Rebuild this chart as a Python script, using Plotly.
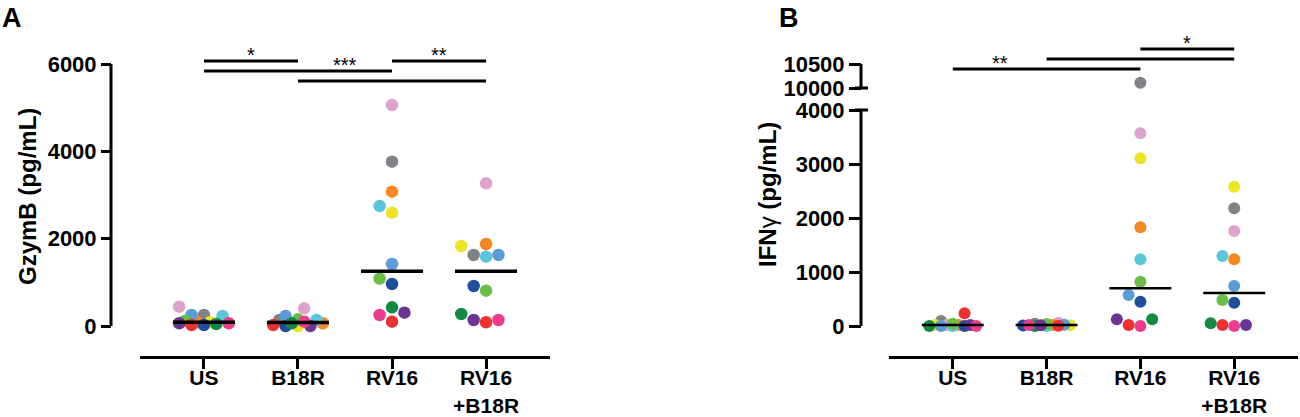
import numpy as np
import plotly.graph_objects as go

# ---------------- data ----------------
groups = ["US", "B18R", "RV16", "RV16+B18R"]
group_labels = ["US", "B18R", "RV16", "RV16<br>+B18R"]
# donors (same order in every list): grey, pink, orange, cyan, yellow, light blue,
# dark blue, light green, dark green, red, purple, magenta
donors = ["D1", "D2", "D3", "D4", "D5", "D6", "D7", "D8", "D9", "D10", "D11", "D12"]

gzmb_US = [252, 442, 85, 229, 85, 252, 23, 120, 46, 23, 62, 62]
gzmb_B18R = [137, 405, 62, 137, 0, 229, 0, 153, 62, 23, 0, 99]
gzmb_RV16 = [3763, 5061, 3076, 2748, 2595, 1420, 962, 1084, 428, 99, 305, 252]
gzmb_RV16_B18R = [1626, 3267, 1878, 1588, 1832, 1626, 916, 809, 275, 85, 137, 137]

ifng_US = [93, 19, 19, 0, 19, 0, 0, 40, 0, 235, 19, 0]
ifng_B18R = [40, 61, 20, 0, 15, 25, 10, 35, 0, 5, 15, 20]
ifng_RV16 = [10110, 3568, 1827, 1235, 3105, 574, 451, 821, 124, 19, 124, 0]
ifng_RV16_B18R = [2179, 1759, 1235, 1296, 2580, 741, 432, 481, 50, 19, 19, 0]

gzmb_ticks = [0, 2000, 4000, 6000]
ifng_ticks_low = [0, 1000, 2000, 3000, 4000]
ifng_ticks_high = [10000, 10500]

# significance brackets: (group from, group to, level, label, label centred between)
sig_A = [("B18R", "RV16+B18R", 0, "", None),
         ("US", "RV16", 1, "***", ("B18R", "RV16")),
         ("US", "B18R", 2, "*", ("US", "B18R")),
         ("RV16", "RV16+B18R", 2, "**", ("RV16", "RV16+B18R"))]
sig_B = [("US", "RV16", 0, "**", ("US", "B18R")),
         ("B18R", "RV16+B18R", 1, "", None),
         ("RV16", "RV16+B18R", 2, "*", ("RV16", "RV16+B18R"))]

# ---------------- styles / layout ----------------
colors = ["#808285", "#dfa2cb", "#f6861f", "#5ac6d9", "#efe424", "#5b9bd8",
          "#1f4e9e", "#6abd45", "#138a43", "#ec3131", "#6b3595", "#ec3c8c"]
W, H = 1300, 417
FONT = "Liberation Sans, Arial, sans-serif"


def fx(px):
    return px / W


def fy(py):
    return 1 - py / H


X_RANGE = [-0.68, 3.68]
XA_DOM = (140, 550)
XB_DOM = (889, 1298)
YA_SPINE = 111
YB_SPINE = 861

# pixel anchors of the value scales
A_px0, A_v1, A_px1 = 326, 6000, 64
BL_px0, BL_v1, BL_px1 = 326, 4000, 110
BH_v0, BH_px0, BH_v1, BH_px1 = 10000, 88, 10500, 64

A_dom = (356, 26)
BL_dom = (356, 100)
BH_dom = (97, 20)


def lin_range(dom, va, pa, vb, pb):
    s = (pa - pb) / (vb - va)  # px per unit
    lo = va + (pa - dom[0]) / s
    hi = va + (pa - dom[1]) / s
    return [lo, hi], s


A_range, A_s = lin_range(A_dom, 0, A_px0, A_v1, A_px1)
BL_range, BL_s = lin_range(BL_dom, 0, BL_px0, BL_v1, BL_px1)
BH_range, BH_s = lin_range(BH_dom, BH_v0, BH_px0, BH_v1, BH_px1)
cat_px = (XA_DOM[1] - XA_DOM[0]) / (X_RANGE[1] - X_RANGE[0])


def swarm(py, d=12.4, step=6.2, maxoff=28):
    py = np.asarray(py, float)
    order = np.argsort(-py, kind="stable")
    cands = [0.0]
    k = 1
    while k * step <= maxoff:
        cands += [-k * step, k * step]
        k += 1
    placed = []
    offs = np.zeros(len(py))
    for i in order:
        y = py[i]
        chosen, best, bestd = None, 0.0, -1
        for c in cands:
            md = min([np.hypot(c - px, y - yy) for px, yy in placed], default=1e9)
            if md >= d:
                chosen = c
                break
            if md > bestd:
                bestd, best = md, c
        offs[i] = chosen if chosen is not None else best
        placed.append((offs[i], y))
    return offs


fig = go.Figure()

gzmb = [gzmb_US, gzmb_B18R, gzmb_RV16, gzmb_RV16_B18R]
ifng = [ifng_US, ifng_B18R, ifng_RV16, ifng_RV16_B18R]

# ---- panel A points
for gi, vals in enumerate(gzmb):
    vals = np.asarray(vals, float)
    py = A_px0 - vals * A_s
    offs = swarm(py) / cat_px
    fig.add_trace(go.Scatter(x=gi + offs, y=vals, mode="markers", xaxis="x", yaxis="y",
                             marker=dict(size=12.5, color=colors, line=dict(width=0)),
                             cliponaxis=False, showlegend=False, hoverinfo="y"))
for gi, vals in enumerate(gzmb):
    m = float(np.median(vals))
    fig.add_trace(go.Scatter(x=[gi - 0.33, gi + 0.33], y=[m, m], mode="lines", xaxis="x", yaxis="y",
                             line=dict(color="black", width=3.5), showlegend=False, hoverinfo="skip"))

# ---- panel B points (broken axis)
for gi, vals in enumerate(ifng):
    vals = np.asarray(vals, float)
    high = vals > BL_v1
    py = np.where(high, BH_px0 - (vals - BH_v0) * BH_s, BL_px0 - vals * BL_s)
    offs = swarm(py, d=11.8, step=5.9) / cat_px
    cols = np.array(colors)
    lo = ~high
    fig.add_trace(go.Scatter(x=gi + offs[lo], y=vals[lo], mode="markers", xaxis="x2", yaxis="y2",
                             marker=dict(size=12, color=list(cols[lo]), line=dict(width=0)),
                             cliponaxis=False, showlegend=False, hoverinfo="y"))
    if high.any():
        fig.add_trace(go.Scatter(x=gi + offs[high], y=vals[high], mode="markers", xaxis="x2", yaxis="y3",
                                 marker=dict(size=12, color=list(cols[high]), line=dict(width=0)),
                                 cliponaxis=False, showlegend=False, hoverinfo="y"))
for gi, vals in enumerate(ifng):
    m = float(np.median(vals))
    fig.add_trace(go.Scatter(x=[gi - 0.33, gi + 0.33], y=[m, m], mode="lines", xaxis="x2", yaxis="y2",
                             line=dict(color="black", width=2.5), showlegend=False, hoverinfo="skip"))

# ---- significance brackets
annots = []


def brackets(sigs, xa, ya, base, step, width, star_shift):
    for g1, g2, lvl, lab, between in sigs:
        y = base + lvl * step
        i1, i2 = groups.index(g1), groups.index(g2)
        fig.add_trace(go.Scatter(x=[i1, i2], y=[y, y], mode="lines", xaxis=xa, yaxis=ya,
                                 line=dict(color="black", width=width), showlegend=False,
                                 hoverinfo="skip"))
        if lab:
            c = (groups.index(between[0]) + groups.index(between[1])) / 2
            annots.append(dict(x=c, y=y, xref=xa, yref=ya, text=lab, showarrow=False,
                               yanchor="middle", yshift=star_shift,
                               font=dict(family=FONT, size=20, color="black")))


brackets(sig_A, "x", "y", 5611, 229, 3, 6)
brackets(sig_B, "x2", "y3", 10396, 208, 3, 6)

# ---- axis spines (Prism-style, limited to the labelled range)
shapes = [
    dict(type="line", xref="paper", yref="y", x0=fx(YA_SPINE), x1=fx(YA_SPINE),
         y0=gzmb_ticks[0], y1=gzmb_ticks[-1], line=dict(color="black", width=3)),
    dict(type="line", xref="paper", yref="y2", x0=fx(YB_SPINE), x1=fx(YB_SPINE),
         y0=ifng_ticks_low[0], y1=ifng_ticks_low[-1], line=dict(color="black", width=3)),
    dict(type="line", xref="paper", yref="y3", x0=fx(YB_SPINE), x1=fx(YB_SPINE),
         y0=ifng_ticks_high[0], y1=ifng_ticks_high[-1], line=dict(color="black", width=3)),
    # break caps
    dict(type="line", xref="paper", yref="y2", x0=fx(YB_SPINE - 6), x1=fx(YB_SPINE + 7),
         y0=ifng_ticks_low[-1], y1=ifng_ticks_low[-1], line=dict(color="black", width=3)),
    dict(type="line", xref="paper", yref="y3", x0=fx(YB_SPINE - 6), x1=fx(YB_SPINE + 7),
         y0=ifng_ticks_high[0], y1=ifng_ticks_high[0], line=dict(color="black", width=3)),
]

tickfont = dict(family=FONT, size=22, color="black", weight="bold")
catfont = dict(family=FONT, size=21, color="black", weight="bold")

xcommon = dict(range=X_RANGE, tickvals=list(range(len(groups))), ticktext=group_labels,
               showline=True, linecolor="black", linewidth=3, ticks="outside", ticklen=10,
               tickwidth=3, tickcolor="black", showgrid=False, zeroline=False,
               tickfont=catfont, fixedrange=True, automargin=False, ticklabelstandoff=-9)
ycommon = dict(showline=False, ticks="outside", ticklen=10, tickwidth=3, tickcolor="black",
               showgrid=False, zeroline=False, tickfont=tickfont, anchor="free", fixedrange=True,
               tickformat="d", automargin=False)

fig.update_layout(
    width=W, height=H, margin=dict(l=0, r=0, t=0, b=0, autoexpand=False),
    paper_bgcolor="white", plot_bgcolor="white", showlegend=False,
    xaxis=dict(domain=[fx(XA_DOM[0]), fx(XA_DOM[1])], anchor="y", **xcommon),
    xaxis2=dict(domain=[fx(XB_DOM[0]), fx(XB_DOM[1])], anchor="y2", **xcommon),
    yaxis=dict(domain=[fy(A_dom[0]), fy(A_dom[1])], range=A_range, tickvals=gzmb_ticks,
               position=fx(YA_SPINE), **ycommon),
    yaxis2=dict(domain=[fy(BL_dom[0]), fy(BL_dom[1])], range=BL_range, tickvals=ifng_ticks_low,
                position=fx(YB_SPINE), **{**ycommon, "ticklen": 12}),
    yaxis3=dict(domain=[fy(BH_dom[0]), fy(BH_dom[1])], range=BH_range, tickvals=ifng_ticks_high,
                position=fx(YB_SPINE), **{**ycommon, "ticklen": 12}),
    shapes=shapes,
)

annots += [
    dict(x=fx(0), y=fy(1), xref="paper", yref="paper", xanchor="left", yanchor="top",
         text="<b>A</b>", showarrow=False, font=dict(family=FONT, size=27, color="black")),
    dict(x=fx(777), y=fy(1), xref="paper", yref="paper", xanchor="left", yanchor="top",
         text="<b>B</b>", showarrow=False, font=dict(family=FONT, size=27, color="black")),
    dict(x=fx(28), y=fy(197), xref="paper", yref="paper", xanchor="center", yanchor="middle",
         text="<b>GzymB (pg/mL)</b>", textangle=-90, showarrow=False,
         font=dict(family=FONT, size=24, color="black")),
    dict(x=fx(767), y=fy(195), xref="paper", yref="paper", xanchor="center", yanchor="middle",
         text="<b>IFN</b>γ<b> (pg/mL)</b>", textangle=-90, showarrow=False,
         font=dict(family=FONT, size=24, color="black")),
]
fig.update_layout(annotations=annots)

fig.write_html("out.html", config={"displayModeBar": False},
               post_script="document.body.style.margin='0';")
